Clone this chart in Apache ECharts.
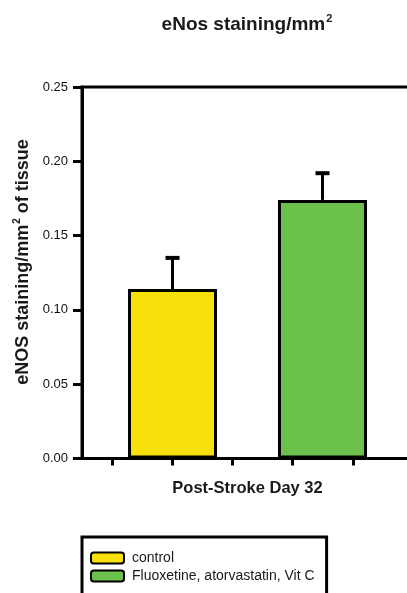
<!DOCTYPE html>
<html>
<head>
<meta charset="utf-8">
<script src="https://cdn.jsdelivr.net/npm/echarts@6/dist/echarts.min.js"></script>
<style>
  html, body { margin: 0; padding: 0; background: #fff; }
  #chart { width: 407px; height: 593px; }
</style>
</head>
<body>
<div id="chart"></div>
<script>
// Group on the x axis and the two treatment groups
const groupLabels = ['Post-Stroke Day 32'];
const seriesNames = ['control', 'Fluoxetine, atorvastatin, Vit C'];
// eNOS staining per mm² of tissue: mean and standard error
const meanValues = [0.114, 0.174];
const semValues = [0.021, 0.018];
// Value axis range and step
const yMin = 0;
const yMax = 0.25;
const yStep = 0.05;
// Minor ticks along the bottom axis (in tick-axis units)
const xTickValues = [0.5, 1.5, 2.5, 3.5, 4.5];

const colors = ['#F8E00A', '#6CC04C'];
const BAR_W = 89;
const BAR_GAP = 61;
const FONT = '"Liberation Sans", Arial, Helvetica, sans-serif';
const INK = '#1a1a1a';

const chart = echarts.init(document.getElementById('chart'), null, { renderer: 'canvas' });

function errorBarSeries(idx) {
  const offset = (idx === 0 ? -1 : 1) * (BAR_W + BAR_GAP) / 2;
  return {
    type: 'custom',
    name: seriesNames[idx] + ' SEM',
    xAxisIndex: 0,
    yAxisIndex: 0,
    z: 5,
    silent: true,
    data: [[0, meanValues[idx], semValues[idx]]],
    renderItem: function (params, api) {
      const base = api.coord([api.value(0), api.value(1)]);
      const top = api.coord([api.value(0), api.value(1) + api.value(2)]);
      const x = base[0] + offset;
      return {
        type: 'group',
        children: [
          { type: 'line', shape: { x1: x, y1: base[1], x2: x, y2: top[1] },
            style: { stroke: '#000', lineWidth: 3 } },
          { type: 'line', shape: { x1: x - 7, y1: top[1], x2: x + 7, y2: top[1] },
            style: { stroke: '#000', lineWidth: 4 } }
        ]
      };
    }
  };
}

const option = {
  animation: false,
  backgroundColor: '#fff',
  grid: {
    left: 82, top: 87, width: 331, bottom: 134.5,
    outerBoundsMode: 'none',
    show: true, borderColor: '#000', borderWidth: 3, backgroundColor: 'transparent'
  },
  xAxis: [
    {
      type: 'category',
      data: groupLabels,
      position: 'bottom',
      axisLine: { show: true, lineStyle: { color: '#000', width: 3 } },
      axisTick: { show: false },
      axisLabel: {
        margin: 21, fontFamily: FONT, fontSize: 16.5, fontWeight: 'bold', color: INK
      },
      splitLine: { show: false }
    },
    {
      type: 'value',
      min: 0,
      max: 5.5,
      position: 'bottom',
      axisLine: { show: false },
      axisLabel: { show: false },
      splitLine: { show: false },
      axisTick: {
        show: true, length: 7, customValues: xTickValues,
        lineStyle: { color: '#000', width: 3 }
      }
    }
  ],
  yAxis: {
    type: 'value',
    min: yMin,
    max: yMax,
    interval: yStep,
    axisLine: { show: true, lineStyle: { color: '#000', width: 3 } },
    axisTick: { show: true, length: 9, lineStyle: { color: '#000', width: 3 } },
    axisLabel: {
      margin: 14, fontFamily: FONT, fontSize: 13, color: '#111',
      formatter: v => v.toFixed(2)
    },
    splitLine: { show: false }
  },
  legend: {
    orient: 'vertical',
    left: 82,
    top: 537,
    height: 80,
    padding: [14, 12, 20, 8],
    borderColor: '#000',
    borderWidth: 3,
    itemWidth: 33,
    itemHeight: 11,
    itemGap: 4,
    icon: 'roundRect',
    data: seriesNames,
    textStyle: { fontFamily: FONT, fontSize: 14, color: INK, padding: [0, 0, 0, 3] }
  },
  graphic: [
    {
      type: 'text',
      x: 247,
      y: 25,
      style: {
        text: '{a|eNos staining/mm}{b|2}',
        align: 'center',
        verticalAlign: 'middle',
        rich: {
          a: { fontFamily: FONT, fontSize: 19, fontWeight: 'bold', fill: INK },
          b: { fontFamily: FONT, fontSize: 11, fontWeight: 'bold', fill: INK, verticalAlign: 'top', padding: [0, 0, 12, 1] }
        }
      }
    },
    {
      type: 'text',
      x: 23,
      y: 262,
      rotation: Math.PI / 2,
      style: {
        text: '{a|eNOS staining/mm}{b|2}{a| of tissue}',
        align: 'center',
        verticalAlign: 'middle',
        rich: {
          a: { fontFamily: FONT, fontSize: 18, fontWeight: 'bold', fill: INK },
          b: { fontFamily: FONT, fontSize: 10, fontWeight: 'bold', fill: INK, verticalAlign: 'top', padding: [0, 0, 11, 1] }
        }
      }
    }
  ],
  series: [
    {
      type: 'bar',
      name: seriesNames[0],
      data: [meanValues[0]],
      barWidth: BAR_W,
      barGap: (BAR_GAP / BAR_W * 100).toFixed(1) + '%',
      itemStyle: { color: colors[0], borderColor: '#000', borderWidth: 3 },
      z: 3
    },
    {
      type: 'bar',
      name: seriesNames[1],
      data: [meanValues[1]],
      barWidth: BAR_W,
      barGap: (BAR_GAP / BAR_W * 100).toFixed(1) + '%',
      itemStyle: { color: colors[1], borderColor: '#000', borderWidth: 3 },
      z: 3
    },
    errorBarSeries(0),
    errorBarSeries(1)
  ]
};

chart.setOption(option);
</script>
</body>
</html>
